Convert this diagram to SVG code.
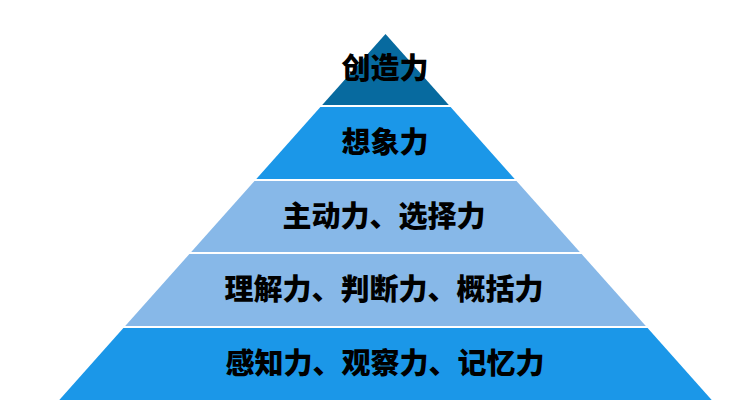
<svg xmlns="http://www.w3.org/2000/svg" width="749" height="419" viewBox="0 0 749 419">
<style>
.t{font-family:"Noto Sans CJK SC","Noto Sans",sans-serif;font-weight:900;font-size:29px;fill:#000;text-anchor:middle}
.dark{fill:#076a9f}
.mid{fill:#1b97e8}
.light{fill:#87b8e8}
</style>
<rect width="749" height="419" fill="#fff"/>
<g id="layer1">
<polygon class="dark" points="385.5,34 322.2,105 448.8,105"/>
<text class="t" x="385" y="79">创造力</text>
</g>
<g id="layer2">
<polygon class="mid" points="320.4,107 450.6,107 514.7,179 256.3,179"/>
<text class="t" x="385" y="153">想象力</text>
</g>
<g id="layer3">
<polygon class="light" points="254.5,181 516.5,181 579.8,252 191.2,252"/>
<text class="t" x="384" y="227">主动力、选择力</text>
</g>
<g id="layer4">
<polygon class="light" points="189.4,254 581.6,254 645.8,326 125.2,326"/>
<text class="t" x="384" y="300">理解力、判断力、概括力</text>
</g>
<g id="layer5">
<polygon class="mid" points="123.4,328 647.6,328 711.7,400 59.3,400"/>
<text class="t" x="385" y="374">感知力、观察力、记忆力</text>
</g>
<g id="connectors"></g>
</svg>
